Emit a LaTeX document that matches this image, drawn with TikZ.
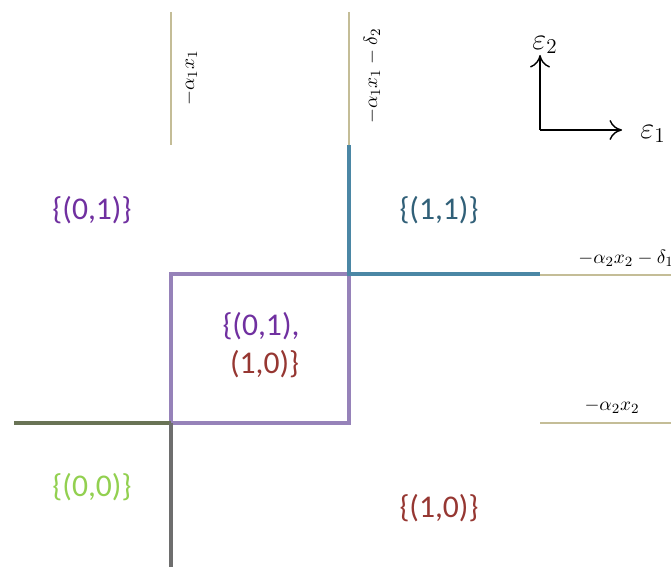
\documentclass[tikz,border=0pt]{standalone}
\usepackage{fontspec}
\setmainfont{Carlito}
\usepackage{xcolor}
\usepackage{tikz}
\usetikzlibrary{arrows.meta,calc}
\definecolor{bndtan}{RGB}{196,189,151}
\definecolor{bndblue}{RGB}{75,135,165}
\definecolor{bndpurple}{RGB}{150,130,185}
\definecolor{bndgray}{RGB}{110,110,110}
\definecolor{bndolive}{RGB}{105,115,85}
\definecolor{setpurple}{RGB}{112,48,160}
\definecolor{setteal}{RGB}{49,96,120}
\definecolor{setred}{RGB}{150,55,50}
\definecolor{setgreen}{RGB}{146,208,80}

\begin{document}
\begin{tikzpicture}[x=0.02cm, y=-0.02cm,
    thr/.style={bndtan, line width=0.7pt},
    setlbl/.style={font=\fontsize{18}{22}\selectfont, align=center, inner sep=0},
    mathlbl/.style={font=\fontsize{11}{13}\selectfont, inner sep=0}]
    \useasboundingbox (0,0) rectangle (671,567);
    % thresholds
    \coordinate (a1top) at (171,12);  \coordinate (a1bot) at (171,145);
    \coordinate (b1top) at (349,12);  \coordinate (b1bot) at (349,145);
    \coordinate (c1) at (349,274);    \coordinate (c2) at (540,274);
    \coordinate (a2l) at (540,275);   \coordinate (a2r) at (671,275);
    \coordinate (b2l) at (540,423);   \coordinate (b2r) at (671,423);
    \coordinate (bl) at (171,423);    \coordinate (tl) at (171,274);
    \coordinate (br) at (349,423);
    \coordinate (farl) at (14,423);   \coordinate (down) at (171,567);
    \draw[thr] (a1top) -- (a1bot);
    \draw[thr] (b1top) -- (b1bot);
    \draw[thr] (a2l) -- (a2r);
    \draw[thr] (b2l) -- (b2r);
    \node[mathlbl, rotate=90] (lblA) at (190,78) {$-\alpha_1 x_1$};
    \node[mathlbl, rotate=90] (lblB) at (372,76) {$-\alpha_1 x_1-\delta_2$};
    \node[mathlbl, anchor=west] (lblC) at (578,258) {$-\alpha_2 x_2-\delta_1$};
    \node[mathlbl] (lblD) at (612,406) {$-\alpha_2 x_2$};
    % regions
    \draw[bndpurple, line width=2pt] (tl) -- (c1) -- (br) -- (bl) -- cycle;
    \draw[bndblue, line width=2.4pt] (b1bot) -- (c1) -- (c2);
    \draw[bndolive, line width=2.4pt] (farl) -- (bl);
    \draw[bndgray, line width=2.4pt] (bl) -- (down);
    \node[setlbl, setpurple] (s01) at (92,210) {\{(0,1)\}};
    \node[setlbl, setteal] (s11) at (439,210) {\{(1,1)\}};
    \node[setlbl] (smid) at (261,345) {\color{setpurple}\{(0,1),\\ \color{setred}\ (1,0)\}};
    \node[setlbl, setgreen] (s00) at (92,487) {\{(0,0)\}};
    \node[setlbl, setred] (s10) at (439,508) {\{(1,0)\}};
    % axes
    \coordinate (o) at (540,130);
    \node[font=\fontsize{18}{22}\selectfont, inner sep=0, anchor=south] (e2) at (545,54) {$\varepsilon_2$};
    \node[font=\fontsize{18}{22}\selectfont, inner sep=0, anchor=west] (e1) at (640,134) {$\varepsilon_1$};
    \draw[-{To[length=2.5mm,width=4mm]}, thick] (o) -- (540,55);
    \draw[-{To[length=2.5mm,width=4mm]}, thick] (o) -- (622,130);
\end{tikzpicture}
\end{document}
